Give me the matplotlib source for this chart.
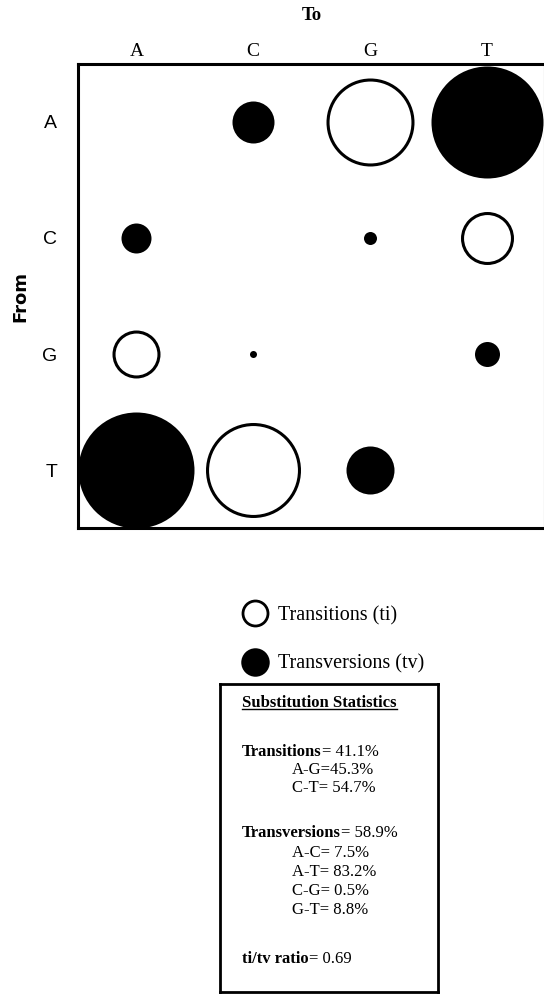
import matplotlib
matplotlib.use("Agg")
import matplotlib.pyplot as plt
from matplotlib.lines import Line2D
from matplotlib.transforms import IdentityTransform

# ---------------- data ----------------
bases = ["A", "C", "G", "T"]
# bubble diameters (pixels in the reference) for each "from" row, columns = "to" A C G T
diam_from_A = [0, 42, 88, 112]
diam_from_C = [30, 0, 13, 53]
diam_from_G = [48, 7, 0, 25]
diam_from_T = [116, 95, 48, 0]
transition_pairs = [("A", "G"), ("G", "A"), ("C", "T"), ("T", "C")]

legend_labels = ["Transitions (ti)", "Transversions (tv)"]

stats_title = "Substitution Statistics"
ti_total = 41.1
tv_total = 58.9
ti_pairs = ["A-G", "C-T"]
ti_pcts = [45.3, 54.7]
ti_seps = ["=", "= "]
tv_pairs = ["A-C", "A-T", "C-G", "G-T"]
tv_pcts = [7.5, 83.2, 0.5, 8.8]
ti_tv_ratio = 0.69

# ---------------- figure ----------------
W, H = 544, 996
SERIF = "Liberation Serif"
SANS = "Liberation Sans"
plt.rcParams["font.family"] = [SERIF, "DejaVu Serif"]

fig = plt.figure(figsize=(W / 100, H / 100), dpi=100)
ax = fig.add_axes([78 / W, 1 - 528 / H, (545 - 78) / W, (528 - 64) / H])

px2pt = 72 / 100
lw_open = 2.2
rows = [diam_from_A, diam_from_C, diam_from_G, diam_from_T]
for i, row in enumerate(rows):
    for j, d in enumerate(row):
        if d <= 0:
            continue
        if (bases[i], bases[j]) in transition_pairs:
            ax.scatter([j], [i], s=((d - lw_open / px2pt) * px2pt) ** 2,
                       facecolors="white", edgecolors="black",
                       linewidths=lw_open, clip_on=False, zorder=2)
        else:
            ax.scatter([j], [i], s=(d * px2pt) ** 2, c="black",
                       linewidths=0, clip_on=False, zorder=2)

ax.set_xlim(-0.5, 3.5)
ax.set_ylim(3.5, -0.5)
ax.set_xticks(range(4))
ax.set_xticklabels(bases, fontfamily=SERIF, fontsize=14)
ax.xaxis.tick_top()
ax.set_yticks(range(4))
ax.set_yticklabels(bases, fontfamily=SANS, fontsize=14)
ax.tick_params(axis="x", length=0, pad=3)
ax.tick_params(axis="y", length=0, pad=15)
for sp in ax.spines.values():
    sp.set_linewidth(2.2)
    sp.set_zorder(3)

fig.text(312 / W, 1 - 16 / H, "To", ha="center", va="center",
         fontweight="bold", fontsize=13.5, fontfamily=SERIF)
fig.text(20 / W, 1 - 297 / H, "From", ha="center", va="center", rotation=90,
         fontweight="bold", fontsize=13, fontfamily="DejaVu Sans")

# ---------------- legend ----------------
h_open = Line2D([], [], ls="", marker="o", markersize=18.0, markerfacecolor="white",
                markeredgecolor="black", markeredgewidth=2.0)
h_fill = Line2D([], [], ls="", marker="o", markersize=20.5, markerfacecolor="black",
                markeredgecolor="black", markeredgewidth=0)
fig.legend([h_open, h_fill], legend_labels, loc="upper left",
           bbox_to_anchor=(243 / W, 1 - 606 / H), frameon=False,
           prop={"family": SERIF, "size": 14.5}, handlelength=1.2,
           handletextpad=0.55, labelspacing=1.45, borderpad=0, borderaxespad=0)

# ---------------- statistics box ----------------
bx0, bx1, by0, by1 = 220, 438, 684, 992
axb = fig.add_axes([bx0 / W, 1 - by1 / H, (bx1 - bx0) / W, (by1 - by0) / H])
axb.set_xticks([])
axb.set_yticks([])
for sp in axb.spines.values():
    sp.set_linewidth(2.0)


def ay(ypx):
    return (by1 - ypx) / (by1 - by0)


def ax_x(xpx):
    return (xpx - bx0) / (bx1 - bx0)


FS = 12
x_main = ax_x(242)
x_ind = ax_x(292)

title = axb.text(x_main, ay(703), stats_title, fontsize=FS, fontweight="bold",
                 va="center", ha="left")


def two_part(x, y, bold, regular):
    t1 = axb.text(x, y, bold, fontsize=FS, fontweight="bold", va="center", ha="left")
    axb.annotate(regular, xy=(1, 0), xycoords=t1, fontsize=FS, va="bottom", ha="left")


two_part(x_main, ay(752), "Transitions", f"= {ti_total}%")
for k, (p, v) in enumerate(zip(ti_pairs, ti_pcts)):
    axb.text(x_ind, ay(770 + 18 * k), f"{p}{ti_seps[k]}{v}%", fontsize=FS,
             va="center", ha="left")

two_part(x_main, ay(833), "Transversions", f"= {tv_total}%")
for k, (p, v) in enumerate(zip(tv_pairs, tv_pcts)):
    axb.text(x_ind, ay(853 + 19 * k), f"{p}= {v}%", fontsize=FS,
             va="center", ha="left")

two_part(x_main, ay(959), "ti/tv ratio", f"= {ti_tv_ratio}")

# underline the title
fig.canvas.draw()
bb = title.get_window_extent(fig.canvas.get_renderer())
fig.add_artist(Line2D([bb.x0, bb.x1], [bb.y0 + 1.5, bb.y0 + 1.5],
                      transform=IdentityTransform(), color="black", lw=1.0))

fig.savefig("out.png", dpi=100)
